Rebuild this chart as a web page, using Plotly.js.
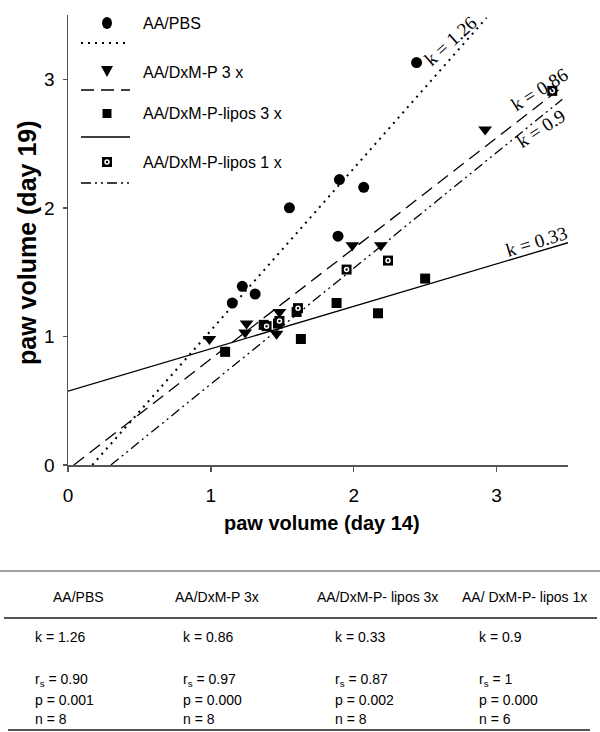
<!DOCTYPE html>
<html><head><meta charset="utf-8">
<script src="https://cdn.plot.ly/plotly-3.0.1.min.js"></script>
<style>body{margin:0;background:#fff}</style></head>
<body><div id="chart" style="width:600px;height:732px"></div>
<script>
// ---- data ----
const groups = ['AA/PBS', 'AA/DxM-P 3 x', 'AA/DxM-P-lipos 3 x', 'AA/DxM-P-lipos 1 x'];
const pbsX = [1.15, 1.22, 1.31, 1.55, 1.89, 1.90, 2.07, 2.44];
const pbsY = [1.26, 1.39, 1.33, 2.00, 1.78, 2.22, 2.16, 3.13];
const dxmX = [0.99, 1.24, 1.25, 1.46, 1.48, 1.99, 2.19, 2.92];
const dxmY = [0.98, 1.03, 1.10, 1.02, 1.19, 1.71, 1.71, 2.61];
const lip3X = [1.10, 1.37, 1.47, 1.60, 1.63, 1.88, 2.17, 2.50];
const lip3Y = [0.88, 1.09, 1.10, 1.19, 0.98, 1.26, 1.18, 1.45];
const lip1X = [1.39, 1.48, 1.61, 1.95, 2.24, 3.39];
const lip1Y = [1.08, 1.12, 1.22, 1.52, 1.59, 2.91];
// regression lines: slope k and intercept, drawn between start/end x
const slopes = [1.26, 0.86, 0.33, 0.9];
const intercepts = [-0.214, -0.035, 0.574, -0.27];
const lineStartX = [0.17, 0.041, 0, 0.30];
const lineEndX = [2.93, 3.46, 3.5, 3.46];
const kLabels = ['k = 1.26', 'k = 0.86', 'k = 0.33', 'k = 0.9'];
const tickVals = [0, 1, 2, 3];
const tickText = ['0', '1', '2', '3'];
// table
const tableHeaders = ['AA/PBS', 'AA/DxM-P 3x', 'AA/DxM-P- lipos 3x', 'AA/ DxM-P- lipos 1x'];
const tableK = ['1.26', '0.86', '0.33', '0.9'];
const tableRs = ['0.90', '0.97', '0.87', '1'];
const tableP = ['0.001', '0.000', '0.002', '0.000'];
const tableN = ['8', '8', '8', '6'];

// ---- layout helpers (plot area: x 68..568, y 15..465) ----
const PL = 68, PW = 500, PT = 15, PH = 450;
const px = v => (v - PL) / PW;
const py = v => (PT + PH - v) / PH;
const SANS = 'Arial, "Liberation Sans", sans-serif';
const SERIF = '"Times New Roman", "Liberation Serif", serif';

const dashes = ['2px,5px', '13px,7px', 'solid', '10px,4px,2px,4px,2px,4px'];
const lineW = [2, 1.3, 1.3, 1.3];

const traces = [];
slopes.forEach((k, i) => {
  const xs = [lineStartX[i], lineEndX[i]];
  traces.push({x: xs, y: xs.map(x => k * x + intercepts[i]), mode: 'lines', type: 'scatter',
    line: {color: '#000', width: lineW[i], dash: dashes[i]}, hoverinfo: 'skip'});
});
traces.push({x: pbsX, y: pbsY, mode: 'markers', type: 'scatter', name: groups[0],
  marker: {symbol: 'circle', size: 11, color: '#000'}});
traces.push({x: dxmX, y: dxmY, mode: 'markers', type: 'scatter', name: groups[1],
  marker: {symbol: 'triangle-down', size: 12, color: '#000'}});
traces.push({x: lip3X, y: lip3Y, mode: 'markers', type: 'scatter', name: groups[2],
  marker: {symbol: 'square', size: 10, color: '#000'}});
traces.push({x: lip1X, y: lip1Y, mode: 'markers', type: 'scatter', name: groups[3],
  marker: {symbol: 'square', size: 10, color: '#000'}});
traces.push({x: lip1X, y: lip1Y, mode: 'markers', type: 'scatter', hoverinfo: 'skip',
  marker: {symbol: 'circle-open', size: 4, color: '#fff', line: {color: '#fff', width: 1.5}}});

const ann = [];
const shapes = [];
function txt(text, x, y, size, family, opts) {
  ann.push(Object.assign({text: text, xref: 'paper', yref: 'paper', x: px(x), y: py(y),
    xanchor: 'center', yanchor: 'middle', showarrow: false,
    font: {family: family, size: size, color: '#000'}}, opts || {}));
}
// axis titles
txt('<b>paw volume (day 19)</b>', 27, 243, 25, SANS, {textangle: -90});
txt('<b>paw volume (day 14)</b>', 322, 523, 20, SANS);
// k labels along lines
const kPos = [[2.68, 3.30, -42], [3.30, 2.92, -32], [3.28, 1.74, -17], [3.31, 2.62, -33]];
kLabels.forEach((t, i) => {
  ann.push({text: t, xref: 'x', yref: 'y', x: kPos[i][0], y: kPos[i][1], textangle: kPos[i][2],
    xanchor: 'center', yanchor: 'middle',
    showarrow: false, font: {family: SERIF, size: 19, color: '#000'}});
});
// custom legend
const legY = [23, 72, 114, 162];
const legLineY = [43, 90, 137, 183];
groups.forEach((g, i) => {
  txt(g, 141, legY[i], 16, SANS, {xanchor: 'left'});
  shapes.push({type: 'line', xref: 'paper', yref: 'paper', x0: px(81), x1: px(130),
    y0: py(legLineY[i]), y1: py(legLineY[i]), line: {color: '#000', width: lineW[i], dash: dashes[i]}});
});
shapes.push({type: 'circle', xref: 'paper', yref: 'paper', x0: px(102), x1: px(112), y0: py(17), y1: py(29),
  fillcolor: '#000', line: {width: 0}});
shapes.push({type: 'path', xref: 'paper', yref: 'paper',
  path: `M${px(101)},${py(66)} L${px(113)},${py(66)} L${px(107)},${py(77)} Z`, fillcolor: '#000', line: {width: 0}});
shapes.push({type: 'rect', xref: 'paper', yref: 'paper', x0: px(102.5), x1: px(111.5), y0: py(109), y1: py(118),
  fillcolor: '#000', line: {width: 0}});
shapes.push({type: 'rect', xref: 'paper', yref: 'paper', x0: px(102), x1: px(112), y0: py(157), y1: py(167),
  fillcolor: '#000', line: {width: 0}});
shapes.push({type: 'circle', xref: 'paper', yref: 'paper', x0: px(105), x1: px(109), y0: py(160), y1: py(164),
  fillcolor: '#000', line: {color: '#fff', width: 1.5}});

// table
const hdrX = [78, 217, 377, 524];
const colX = [33, 181, 333, 477];
tableHeaders.forEach((h, i) => {
  txt(h, hdrX[i], 597, 14, SANS);
  const rows = [['k = ' + tableK[i], 637], ['r<sub>s</sub> = ' + tableRs[i], 680],
                ['p = ' + tableP[i], 700], ['n = ' + tableN[i], 719]];
  rows.forEach(r => txt(r[0], colX[i], r[1], 14, SANS, {xanchor: 'left'}));
});
shapes.push({type: 'line', xref: 'paper', yref: 'paper', x0: px(0), x1: px(600), y0: py(571), y1: py(571),
  line: {color: '#444', width: 1}});
shapes.push({type: 'line', xref: 'paper', yref: 'paper', x0: px(4), x1: px(597), y0: py(618), y1: py(618),
  line: {color: '#555', width: 2}});
shapes.push({type: 'line', xref: 'paper', yref: 'paper', x0: px(8), x1: px(590), y0: py(730), y1: py(730),
  line: {color: '#555', width: 2}});

const axisCommon = {range: [0, 3.5], tickvals: tickVals, ticktext: tickText, ticks: 'outside',
  ticklen: 5, tickcolor: '#555', tickwidth: 1.3, showline: true, linecolor: '#555', linewidth: 1.5,
  showgrid: false, zeroline: false, tickfont: {family: SANS, size: 19, color: '#000'}, fixedrange: true};

Plotly.newPlot('chart', traces, {
  width: 600, height: 732, margin: {l: PL, r: 600 - PL - PW, t: PT, b: 732 - PT - PH},
  showlegend: false, paper_bgcolor: '#fff', plot_bgcolor: '#fff',
  xaxis: Object.assign({}, axisCommon, {ticklabelstandoff: 8}),
  yaxis: Object.assign({}, axisCommon, {ticklen: 4, ticklabelstandoff: 4}),
  annotations: ann, shapes: shapes
}, {displayModeBar: false, staticPlot: true});
</script></body></html>
